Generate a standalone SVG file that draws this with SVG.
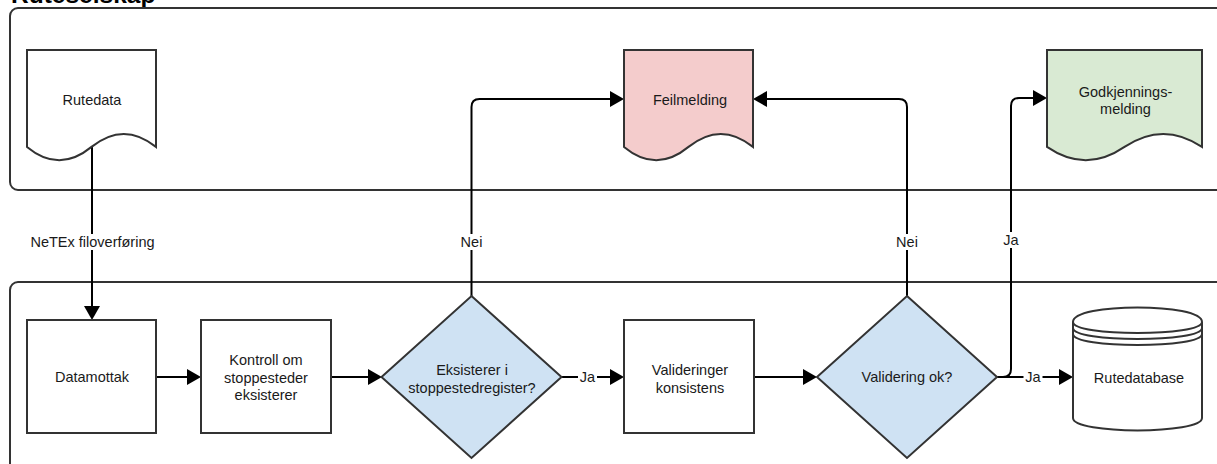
<svg xmlns="http://www.w3.org/2000/svg" width="1217" height="464" viewBox="0 0 1217 464">
<style>
.pool{fill:none;stroke:#333;stroke-width:2}
.shape{stroke:#333;stroke-width:2}
.plain{fill:#fff}
.blue{fill:#cfe2f3}
.pink{fill:#f4cccc}
.green{fill:#d9ead3}
.conn{fill:none;stroke:#000;stroke-width:2}
text{font-family:"Liberation Sans",Arial,Helvetica,sans-serif;font-size:14.5px;fill:#1a1a1a;text-anchor:middle}
.title{font-size:24.5px;font-weight:bold;text-anchor:start;fill:#000}
.lblbg{fill:#fff}
</style>
<defs>
<marker id="arr" markerUnits="userSpaceOnUse" markerWidth="14" markerHeight="16" refX="0" refY="8" orient="auto" viewBox="0 0 14 16" overflow="visible">
<path d="M0,0 L14,8 L0,16 Z" fill="#000"/>
</marker>
</defs>
<text class="title" x="11" y="3">Ruteselskap</text>
<g id="pool-top"><rect class="pool" x="10" y="8" width="1240" height="182" rx="8"/></g>
<g id="pool-bottom"><rect class="pool" x="10" y="282" width="1240" height="240" rx="8"/></g>
<g id="connectors">
<path class="conn" d="M92,147 V306" marker-end="url(#arr)"/>
<path class="conn" d="M156,377 H187" marker-end="url(#arr)"/>
<path class="conn" d="M331,377 H368" marker-end="url(#arr)"/>
<path class="conn" d="M562,377 H610" marker-end="url(#arr)"/>
<path class="conn" d="M754,377 H803" marker-end="url(#arr)"/>
<path class="conn" d="M997,377 H1059" marker-end="url(#arr)"/>
<path class="conn" d="M471.5,296 V107 Q471.5,99 479.5,99 H610" marker-end="url(#arr)"/>
<path class="conn" d="M907,296 V107 Q907,99 899,99 H767" marker-end="url(#arr)"/>
<path class="conn" d="M997,377 H1003 Q1011,377 1011,369 V106 Q1011,98 1019,98 H1033" marker-end="url(#arr)"/>
<rect class="lblbg" x="31" y="234" width="123" height="16"/>
<text x="92.5" y="246.5">NeTEx filoverføring</text>
<rect class="lblbg" x="460" y="234" width="23" height="16"/>
<text x="471.5" y="246.5">Nei</text>
<rect class="lblbg" x="895.5" y="234" width="23" height="16"/>
<text x="907" y="246.5">Nei</text>
<rect class="lblbg" x="1002" y="232" width="18" height="16"/>
<text x="1011" y="245">Ja</text>
<rect class="lblbg" x="578" y="369" width="19" height="16"/>
<text x="587.5" y="382">Ja</text>
<rect class="lblbg" x="1023.5" y="369" width="19" height="16"/>
<text x="1033" y="382">Ja</text>
</g>
<g id="rutedata">
<path class="shape plain" d="M27,50 H156 V146.9 Q123.75,121 91.5,146.9 Q59.25,173.5 27,146.9 Z"/>
<text x="92" y="104.5">Rutedata</text>
</g>
<g id="feilmelding">
<path class="shape pink" d="M624,50 H753 V146.9 Q720.75,121 688.5,146.9 Q656.25,173.5 624,146.9 Z"/>
<text x="690" y="105">Feilmelding</text>
</g>
<g id="godkjenningsmelding">
<path class="shape green" d="M1047,50 H1202 V146.9 Q1163.25,121 1124.5,146.9 Q1085.75,173.5 1047,146.9 Z"/>
<text x="1125.5" y="96.5">Godkjennings-</text>
<text x="1125.5" y="113.5">melding</text>
</g>
<g id="datamottak">
<rect class="shape plain" x="27" y="320" width="129" height="113"/>
<text x="92" y="382">Datamottak</text>
</g>
<g id="kontroll">
<rect class="shape plain" x="201" y="320" width="130" height="113"/>
<text x="266" y="365">Kontroll om</text>
<text x="266" y="382.5">stoppesteder</text>
<text x="266" y="400">eksisterer</text>
</g>
<g id="eksisterer">
<path class="shape blue" d="M471.5,296 L561.5,377 L471.5,458 L381.5,377 Z"/>
<text x="472" y="375">Eksisterer i</text>
<text x="472" y="392.5">stoppestedregister?</text>
</g>
<g id="valideringer">
<rect class="shape plain" x="624" y="320" width="130" height="113"/>
<text x="690" y="375">Valideringer</text>
<text x="690" y="392.5">konsistens</text>
</g>
<g id="validering-ok">
<path class="shape blue" d="M907,296 L997,377 L907,458 L817,377 Z"/>
<text x="907" y="382">Validering ok?</text>
</g>
<g id="rutedatabase">
<path class="shape plain" d="M1073,322 C1073,302.5 1202,302.5 1202,322 V418 C1202,434.5 1073,434.5 1073,418 Z"/>
<path class="shape" fill="none" d="M1073,322 C1073,336.7 1202,336.7 1202,322 M1073,328 C1073,342.7 1202,342.7 1202,328 M1073,334 C1073,348.7 1202,348.7 1202,334"/>
<text x="1139" y="382.5">Rutedatabase</text>
</g>
</svg>
